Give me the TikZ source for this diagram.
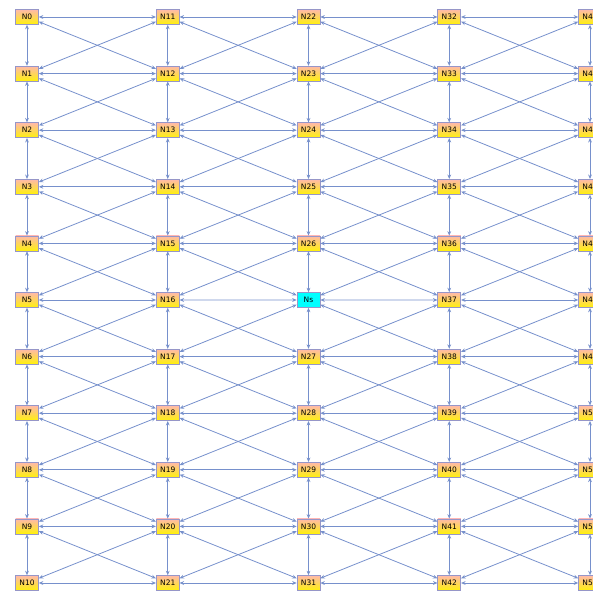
\documentclass[tikz,border=0pt]{standalone}
\usepackage{fontspec}
\setsansfont{DejaVu Sans}
\usetikzlibrary{arrows.meta}
\definecolor{edgeblue}{RGB}{118,144,204}
\definecolor{nodetop}{RGB}{255,185,170}
\definecolor{nodebot}{RGB}{255,242,10}
\definecolor{nodeline}{RGB}{150,150,200}
\definecolor{srcfill}{RGB}{0,255,255}

\tikzset{
  box/.style={draw=nodeline,line width=0.6pt,minimum width=23pt,minimum height=15pt,inner sep=1pt,
    font=\sffamily\fontsize{7.5}{8}\selectfont},
  vert/.style={box,top color=nodetop,bottom color=nodebot},
  src/.style={box,fill=srcfill},
  link/.style={edgeblue,line width=0.8pt,{Stealth[length=4.5pt,width=3.8pt]}-{Stealth[length=4.5pt,width=3.8pt]}}
}

\begin{document}
\begin{tikzpicture}[x=1pt,y=-1pt]
\useasboundingbox (0,0) rectangle (592,593);
% grid of nodes
\foreach \c/\b in {0/0,1/11,3/32,4/43}
  \foreach \r in {0,...,10}{
    \pgfmathtruncatemacro{\k}{\b+\r}
    \node[vert] (v\c-\r) at ({27+140.75*\c},{17+56.6*\r}) {N\k};
  }
\foreach \r in {0,...,4}{
  \pgfmathtruncatemacro{\k}{22+\r}
  \node[vert] (v2-\r) at (308.5,{17+56.6*\r}) {N\k};
}
\node[src] (v2-5) at (308.5,300) {Ns};
\foreach \r in {6,...,10}{
  \pgfmathtruncatemacro{\k}{21+\r}
  \node[vert] (v2-\r) at (308.5,{17+56.6*\r}) {N\k};
}
% vertical links
\foreach \c in {0,...,4}
  \foreach \r in {0,...,9}{
    \pgfmathtruncatemacro{\s}{\r+1}
    \draw[link] (v\c-\r) -- (v\c-\s);
  }
% horizontal links
\foreach \c in {0,...,3}
  \foreach \r in {0,...,10}{
    \pgfmathtruncatemacro{\d}{\c+1}
    \draw[link] (v\c-\r) -- (v\d-\r);
  }
% diagonal links
\foreach \c in {0,...,3}
  \foreach \r in {0,...,9}{
    \pgfmathtruncatemacro{\d}{\c+1}
    \pgfmathtruncatemacro{\s}{\r+1}
    \draw[link] (v\c-\r) -- (v\d-\s);
    \draw[link] (v\c-\s) -- (v\d-\r);
  }
\end{tikzpicture}
\end{document}
